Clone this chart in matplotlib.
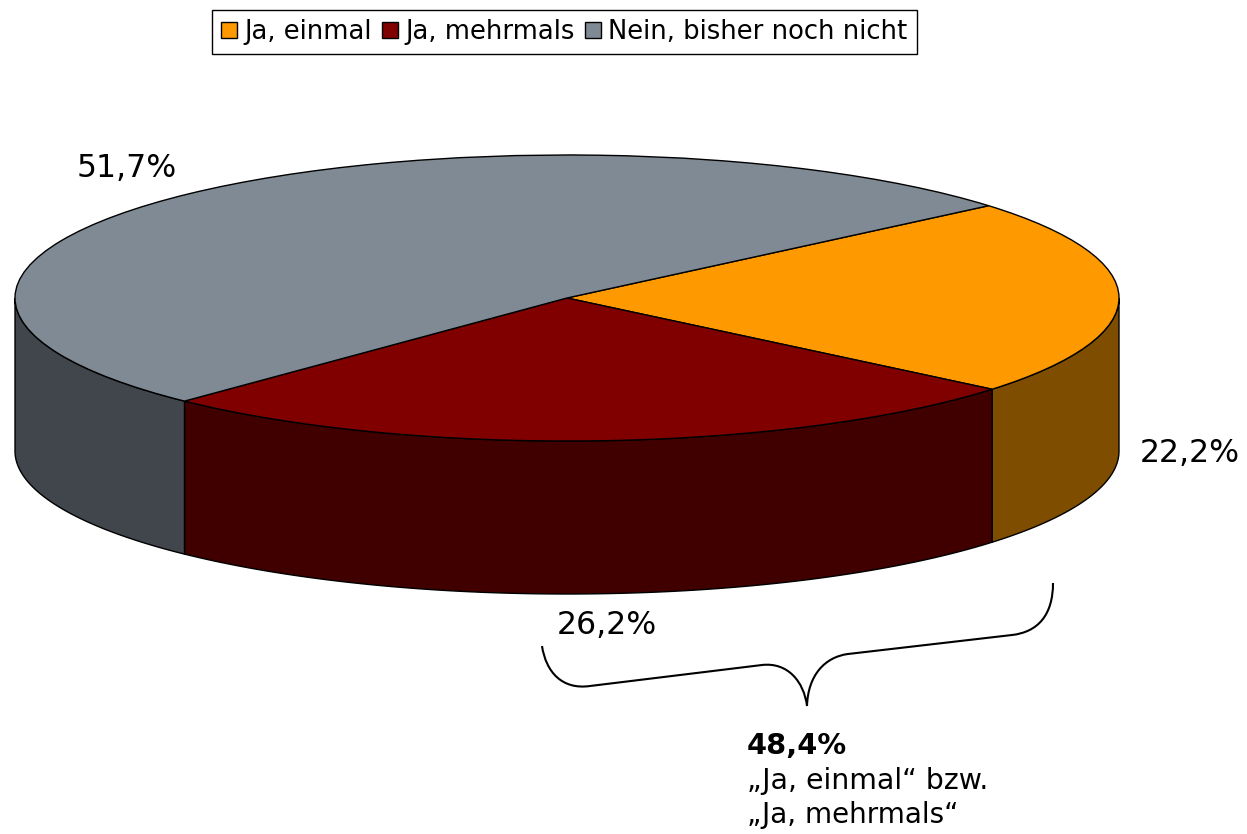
import numpy as np
import matplotlib
matplotlib.use('Agg')
import matplotlib.pyplot as plt
from matplotlib.path import Path
from matplotlib.patches import PathPatch, Polygon

W, H = 1247, 834

kategorien = ['Ja, einmal', 'Ja, mehrmals', 'Nein, bisher noch nicht']
werte = [22.2, 26.2, 51.7]
farben = ['#FF9900', '#800000', '#808A94']
seiten = ['#7F4D00', '#400000', '#40464B']
summe_text = '48,4%'

START = 40.2
CX, CY, RX, RY = 567, 298, 552, 143
TIEFE = 153 / RY


def fmt(v):
    return f'{v:.1f}%'.replace('.', ',')


fig = plt.figure(figsize=(W / 100, H / 100), dpi=100, facecolor='white')

# pie axes: exactly the top ellipse, so the unit circle gets squashed
ax = fig.add_axes([(CX - RX) / W, 1 - (CY + RY) / H, 2 * RX / W, 2 * RY / H])
wedges, _ = ax.pie(werte, startangle=START, counterclock=False, radius=1,
                   colors=farben, wedgeprops={'edgecolor': 'k', 'linewidth': 1,
                                              'clip_on': False, 'zorder': 3})
ax.set_aspect('auto')
ax.set_xlim(-1, 1)
ax.set_ylim(-1, 1)
ax.axis('off')

# side wall, only the part of each slice in the lower half
anteile = np.array(werte) / sum(werte) * 360
oben = START - np.concatenate([[0], np.cumsum(anteile)[:-1]])
unten = oben - anteile
for t1, t2, c in zip(oben, unten, seiten):
    a, b = max(t2, -180), min(t1, 0)
    if a >= b:
        continue
    th = np.radians(np.linspace(a, b, 120))
    x, y = np.cos(th), np.sin(th)
    pts = np.vstack([np.c_[x, y], np.c_[x[::-1], y[::-1] - TIEFE]])
    ax.add_patch(Polygon(pts, closed=True, facecolor=c, edgecolor='k', lw=1,
                         clip_on=False, zorder=2))

# overlay in pixel coords for texts and the brace
top = fig.add_axes([0, 0, 1, 1], facecolor='none')
top.set_xlim(0, W)
top.set_ylim(H, 0)
top.axis('off')

GR = 22.7
top.text(77, 168, fmt(werte[2]), fontsize=GR, va='center', ha='left')
top.text(1140, 453, fmt(werte[0]), fontsize=GR, va='center', ha='left')
top.text(557, 625, fmt(werte[1]), fontsize=GR, va='center', ha='left')

klammer = Path(
    [(1053, 583), (1053, 615), (1038, 632), (1012, 635),
     (848, 654), (825, 657), (808, 675), (807, 706),
     (804, 682), (788, 662), (762, 665),
     (590, 686), (562, 690), (546, 672), (542, 646)],
    [Path.MOVETO, Path.CURVE4, Path.CURVE4, Path.CURVE4,
     Path.LINETO, Path.CURVE4, Path.CURVE4, Path.CURVE4,
     Path.CURVE4, Path.CURVE4, Path.CURVE4,
     Path.LINETO, Path.CURVE4, Path.CURVE4, Path.CURVE4])
top.add_patch(PathPatch(klammer, fill=False, edgecolor='k', lw=1.5))

top.text(747, 746, summe_text, fontsize=20.8, fontweight='bold', va='center')
top.text(747, 781, '„Ja, einmal“ bzw.', fontsize=20.4, va='center')
top.text(747, 815, '„Ja, mehrmals“', fontsize=20, va='center')

leg = top.legend(wedges, kategorien, loc='upper left', ncol=3,
                 bbox_to_anchor=(212 / W, 1 - 10 / H), bbox_transform=fig.transFigure,
                 fontsize=18.6, frameon=True, fancybox=False, framealpha=1,
                 edgecolor='k', borderaxespad=0, handlelength=0.6, handleheight=0.6,
                 handletextpad=0.3, columnspacing=0.4, borderpad=0.35)
leg.get_frame().set_linewidth(1)

fig.savefig('out.png', dpi=100)
